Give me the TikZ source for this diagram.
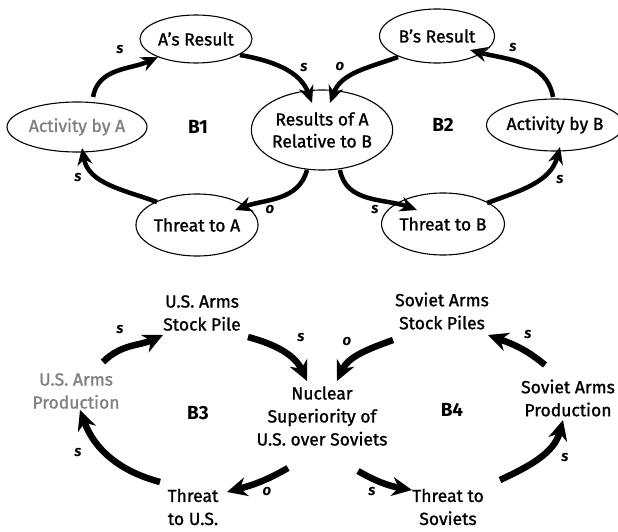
\documentclass[tikz,border=0pt]{standalone}
\usepackage{fontspec}
\setmainfont{Fira Sans}[UprightFeatures={FakeBold=1.2}]
\usetikzlibrary{shapes.geometric,arrows.meta}
\tikzset{every picture/.style={line width=0.75pt}}
\definecolor{greytext}{RGB}{128,128,128}
\tikzset{
  var/.style={ellipse, draw, line width=1.1pt, inner sep=0pt, align=center, font=\fontsize{17.5}{22}\selectfont},
  plain/.style={inner sep=0pt, align=center, font=\fontsize{17.5}{23}\selectfont},
  pol/.style={inner sep=0pt, font=\fontsize{15}{15}\selectfont\itshape\bfseries},
  loopname/.style={inner sep=0pt, font=\fontsize{19}{19}\selectfont\bfseries},
  link/.style={line width=4.5pt, -{Stealth[length=17pt,width=15pt]}},
  biglink/.style={line width=6.5pt, -{Stealth[length=20pt,width=19pt]}},
}

\begin{document}
\begin{tikzpicture}[x=1pt,y=-1pt]
\useasboundingbox (0,0) rectangle (618,532);

%Shape: Ellipse [top, loop B1]
\node[var, minimum width=112pt, minimum height=48pt] (ar) at (196,39) {A’s Result};
\node[var, minimum width=140pt, minimum height=50pt, text=greytext] (actA) at (77,127) {Activity by A};
\node[var, minimum width=111pt, minimum height=62pt] (thA) at (197,225) {Threat to A};
%Shape: Ellipse [centre]
\node[var, minimum width=132pt, minimum height=80pt] (rel) at (322,130) {Results of A\\Relative to B};
%Shape: Ellipse [top, loop B2]
\node[var, minimum width=115pt, minimum height=54pt] (br) at (437,36) {B’s Result};
\node[var, minimum width=125pt, minimum height=52pt] (actB) at (555,125) {Activity by B};
\node[var, minimum width=113pt, minimum height=62pt] (thB) at (443,224) {Threat to B};

% Text Node [bottom]
\node[plain] (usStock) at (202,313) {U.S. Arms\\Stock Pile};
\node[plain, text=greytext] (usProd) at (76,391) {U.S. Arms\\Production};
\node[plain] (thUS) at (193,507) {Threat\\to U.S.};
\node[plain] (nuc) at (322,416) {Nuclear\\Superiority of\\U.S. over Soviets};
\node[plain] (svStock) at (442,311) {Soviet Arms\\Stock Piles};
\node[plain] (svProd) at (568,398) {Soviet Arms\\Production};
\node[plain] (thSv) at (448,507) {Threat to\\Soviets};

% Text Node [loop names]
\node[loopname] (b1) at (198,127) {B1};
\node[loopname] (b2) at (443,125) {B2};
\node[loopname] (b3) at (198,413) {B3};
\node[loopname] (b4) at (452,410) {B4};

%Curved Lines [top]
\draw[link] ([shift={(16,-30)}]actA.center) to[out=80,in=205] ([shift={(-38,18)}]ar.center);
\draw[link] ([shift={(44,16)}]ar.center) to[out=-10,in=110] ([shift={(-10,-27)}]rel.center);
\draw[link] ([shift={(-39,21)}]br.center) to[out=200,in=70] ([shift={(8,-27)}]rel.center);
\draw[link] ([shift={(-15,40)}]rel.center) to[out=255,in=20] ([shift={(38,-15)}]thA.center);
\draw[link] ([shift={(-40,-23)}]thA.center) to[out=160,in=-80] ([shift={(5,21)}]actA.center);
\draw[link] ([shift={(-2,-28)}]actB.center) to[out=100,in=-15] ([shift={(33,14)}]br.center);
\draw[link] ([shift={(18,40)}]rel.center) to[out=-80,in=160] ([shift={(-26,-14)}]thB.center);
\draw[link] ([shift={(44,-21)}]thB.center) to[out=20,in=-105] ([shift={(5,22)}]actB.center);

%Curved Lines [bottom]
\draw[biglink] ([shift={(27,-29)}]usProd.center) to[out=45,in=205] ([shift={(-39,22)}]usStock.center);
\draw[biglink] ([shift={(46,24)}]usStock.center) to[out=-15,in=115] ([shift={(-15,-35)}]nuc.center);
\draw[biglink] ([shift={(-49,29)}]svStock.center) to[out=200,in=65] ([shift={(15,-35)}]nuc.center);
\draw[biglink] ([shift={(-34,52)}]nuc.center) to[out=210,in=15] ([shift={(34,-15)}]thUS.center);
\draw[biglink] ([shift={(-33,-25)}]thUS.center) to[out=165,in=-70] ([shift={(4,19)}]usProd.center);
\draw[biglink] ([shift={(36,55)}]nuc.center) to[out=-30,in=170] ([shift={(-36,-17)}]thSv.center);
\draw[biglink] ([shift={(52,-27)}]thSv.center) to[out=25,in=-105] ([shift={(-5,22)}]svProd.center);
\draw[biglink] ([shift={(-23,-33)}]svProd.center) to[out=140,in=-20] ([shift={(46,24)}]svStock.center);

% Text Node [polarities, top]
\node[pol] (p1) at (120,50) {s};
\node[pol] (p2) at (304,68) {s};
\node[pol] (p3) at (340,67) {o};
\node[pol] (p4) at (78,178) {s};
\node[pol] (p5) at (270,210) {o};
\node[pol] (p6) at (513,48) {s};
\node[pol] (p7) at (375,210) {s};
\node[pol] (p8) at (560,180) {s};
% Text Node [polarities, bottom]
\node[pol] (q1) at (120,330) {s};
\node[pol] (q2) at (301,338) {s};
\node[pol] (q3) at (347,342) {o};
\node[pol] (q4) at (78,453) {s};
\node[pol] (q5) at (267,492) {o};
\node[pol] (q6) at (528,335) {s};
\node[pol] (q7) at (372,492) {s};
\node[pol] (q8) at (565,458) {s};

\end{tikzpicture}
\end{document}
